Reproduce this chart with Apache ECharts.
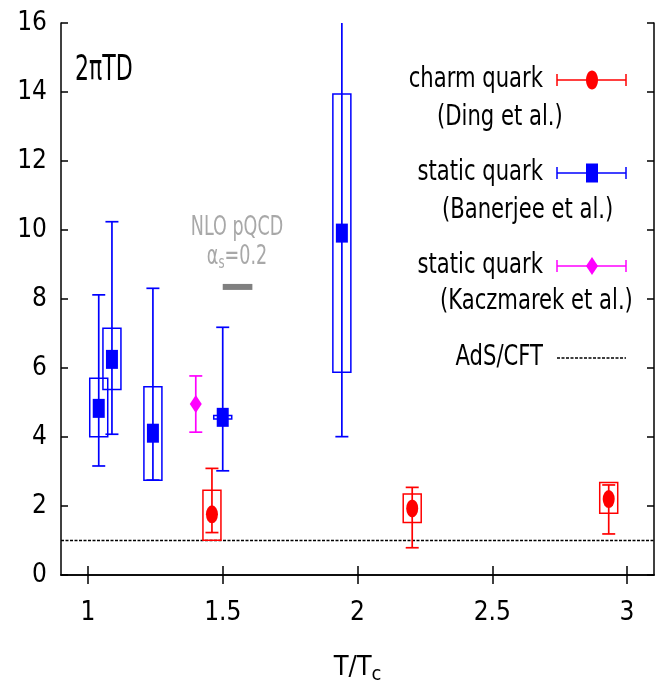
<!DOCTYPE html>
<html>
<head>
<meta charset="utf-8">
<script src="https://cdn.jsdelivr.net/npm/echarts@6/dist/echarts.min.js"></script>
<style>
html,body{margin:0;padding:0;background:#fff;}
#chart{width:664px;height:682px;}
</style>
</head>
<body>
<div id="chart"></div>
<script>
// ---- data ----
var xTicks = [1, 1.5, 2, 2.5, 3];
var xTickLabels = ['1', '1.5', '2', '2.5', '3'];
var yTicks = [0, 2, 4, 6, 8, 10, 12, 14, 16];

// charm quark (Ding et al.)
var charmX = [1.46, 2.203, 2.932];
var charmY = [1.76, 1.93, 2.20];
var charmErrLo = [1.23, 0.79, 1.19];
var charmErrHi = [3.09, 2.54, 2.61];
var charmBoxLo = [1.01, 1.52, 1.79];
var charmBoxHi = [2.46, 2.35, 2.68];

// static quark (Banerjee et al.)
var staticX = [1.04, 1.089, 1.241, 1.50, 1.942];
var staticY = [4.83, 6.25, 4.11, 4.57, 9.91];
var staticErrLo = [3.16, 4.08, 2.75, 3.02, 4.01];
var staticErrHi = [8.12, 10.24, 8.31, 7.18, 17.0];
var staticBoxLo = [4.01, 5.38, 2.75, 4.52, 5.88];
var staticBoxHi = [5.70, 7.15, 5.46, 4.62, 13.94];

// static quark (Kaczmarek et al.)
var kaczX = [1.40];
var kaczY = [4.96];
var kaczErrLo = [4.14];
var kaczErrHi = [5.77];

// AdS/CFT
var adsX = [0.9, 3.1];
var adsY = [1.0, 1.0];

// NLO pQCD, alpha_s = 0.2
var nloX = [1.50, 1.61];
var nloY = [8.35, 8.35];

// ---- helpers ----
function zip2(a, b) { return a.map(function (v, i) { return [v, b[i]]; }); }
function zip3(a, b, c) { return a.map(function (v, i) { return [v, b[i], c[i]]; }); }

var FONT = "'DejaVu Sans Condensed','Liberation Sans Narrow','Liberation Sans',sans-serif";
var RED = '#ff0000', BLUE = '#0000ff', MAG = '#ff00ff';
var ELLIPSE = 'path://M0,10 A6,10 0 1,1 12,10 A6,10 0 1,1 0,10 Z';

function errRender(color) {
  return function (params, api) {
    var x = api.value(0);
    var lo = api.coord([x, api.value(1)]);
    var hi = api.coord([x, api.value(2)]);
    var cw = 6.5;
    var st = { stroke: color, lineWidth: 1.7 };
    return {
      type: 'group',
      children: [
        { type: 'line', shape: { x1: lo[0], y1: lo[1], x2: hi[0], y2: hi[1] }, style: st },
        { type: 'line', shape: { x1: lo[0] - cw, y1: lo[1], x2: lo[0] + cw, y2: lo[1] }, style: st },
        { type: 'line', shape: { x1: hi[0] - cw, y1: hi[1], x2: hi[0] + cw, y2: hi[1] }, style: st }
      ]
    };
  };
}
function boxRender(color) {
  return function (params, api) {
    var x = api.value(0);
    var lo = api.coord([x, api.value(1)]);
    var hi = api.coord([x, api.value(2)]);
    var hw = 9;
    return {
      type: 'rect',
      shape: { x: lo[0] - hw, y: hi[1], width: 2 * hw, height: Math.max(lo[1] - hi[1], 2) },
      style: { fill: 'none', stroke: color, lineWidth: 1.5 }
    };
  };
}
function errSeries(name, color, x, lo, hi) {
  return { type: 'custom', name: name, renderItem: errRender(color), data: zip3(x, lo, hi),
    encode: { x: 0, y: [1, 2] }, clip: true, z: 3, silent: true };
}
function boxSeries(name, color, x, lo, hi) {
  return { type: 'custom', name: name, renderItem: boxRender(color), data: zip3(x, lo, hi),
    encode: { x: 0, y: [1, 2] }, clip: true, z: 2, silent: true };
}
function txt(str, x, y, size, sy, align, color, rich) {
  var st = { text: str, x: 0, y: 0, font: size + 'px ' + FONT, fill: color || '#000',
    align: align || 'left', verticalAlign: 'middle' };
  if (rich) st.rich = rich;
  return { type: 'text', x: x, y: y, scaleY: sy, style: st };
}

var chart = echarts.init(document.getElementById('chart'), null, { renderer: 'canvas' });

var axisLineStyle = { color: '#000', width: 1.5 };
var LEG = 23.5, LEGS = 1.22;
var option = {
  animation: false,
  backgroundColor: '#fff',
  grid: { left: 61, top: 23, right: 10, bottom: 107, containLabel: false, outerBoundsMode: 'none' },
  xAxis: [
    {
      type: 'value', min: 0.9, max: 3.1, position: 'bottom',
      name: 'T/T{sub|c}', nameLocation: 'middle', nameGap: 76,
      nameTextStyle: { fontFamily: FONT, fontSize: 27, color: '#000',
        rich: { sub: { fontFamily: FONT, fontSize: 20, verticalAlign: 'bottom', padding: [14, 0, 0, 0] } } },
      axisLine: { show: true, lineStyle: axisLineStyle },
      axisTick: { show: true, inside: true, length: 9, lineStyle: axisLineStyle, customValues: xTicks },
      axisLabel: { show: true, margin: 25, fontFamily: FONT, fontSize: 26, color: '#000', customValues: xTicks,
        formatter: function (v) { var i = xTicks.indexOf(v); return i >= 0 ? xTickLabels[i] : ''; } },
      splitLine: { show: false }
    },
    {
      type: 'value', min: 0.9, max: 3.1, position: 'top',
      axisLine: { show: true, lineStyle: axisLineStyle },
      axisTick: { show: true, inside: true, length: 9, lineStyle: axisLineStyle, customValues: xTicks },
      axisLabel: { show: false },
      splitLine: { show: false }
    }
  ],
  yAxis: [
    {
      type: 'value', min: 0, max: 16, interval: 2, position: 'left',
      axisLine: { show: true, lineStyle: axisLineStyle },
      axisTick: { show: true, inside: true, length: 7, lineStyle: axisLineStyle },
      axisLabel: { show: true, margin: 14, fontFamily: FONT, fontSize: 26, color: '#000' },
      splitLine: { show: false }
    },
    {
      type: 'value', min: 0, max: 16, interval: 2, position: 'right',
      axisLine: { show: true, lineStyle: axisLineStyle },
      axisTick: { show: true, inside: true, length: 7, lineStyle: axisLineStyle },
      axisLabel: { show: false },
      splitLine: { show: false }
    }
  ],
  series: [
    { type: 'line', name: 'AdS/CFT', data: zip2(adsX, adsY), showSymbol: false, symbol: 'none',
      lineStyle: { color: '#000', width: 1.5, type: [3, 1.5] }, z: 1, silent: true },
    { type: 'line', name: 'NLO pQCD', data: zip2(nloX, nloY), showSymbol: false, symbol: 'none',
      lineStyle: { color: '#808080', width: 6 }, z: 1, silent: true },

    boxSeries('static box', BLUE, staticX, staticBoxLo, staticBoxHi),
    errSeries('static err', BLUE, staticX, staticErrLo, staticErrHi),
    { type: 'scatter', name: 'static quark (Banerjee et al.)', data: zip2(staticX, staticY),
      symbol: 'rect', symbolSize: [12, 19], itemStyle: { color: BLUE, opacity: 1 }, z: 4, silent: true },

    errSeries('kacz err', MAG, kaczX, kaczErrLo, kaczErrHi),
    { type: 'scatter', name: 'static quark (Kaczmarek et al.)', data: zip2(kaczX, kaczY),
      symbol: 'diamond', symbolSize: [12, 18], itemStyle: { color: MAG, opacity: 1 }, z: 4, silent: true },

    boxSeries('charm box', RED, charmX, charmBoxLo, charmBoxHi),
    errSeries('charm err', RED, charmX, charmErrLo, charmErrHi),
    { type: 'scatter', name: 'charm quark (Ding et al.)', data: zip2(charmX, charmY),
      symbol: ELLIPSE, symbolSize: [12, 18], itemStyle: { color: RED, opacity: 1 }, z: 4, silent: true }
  ],
  graphic: [
    txt('2πTD', 75, 71, 24.5, 1.45, 'left'),
    txt('NLO pQCD', 237, 228, 19.5, 1.36, 'center', '#a8a8a8'),
    txt('α{s|s}=0.2', 237, 257, 19.5, 1.36, 'center', '#a8a8a8',
      { s: { font: '13px ' + FONT, fill: '#a8a8a8', padding: [10, 0, 0, 0] } }),

    // legend texts
    txt('charm quark', 543, 80, LEG, LEGS, 'right'),
    txt('(Ding et al.)', 437, 118, LEG, LEGS, 'left'),
    txt('static quark', 543, 173, LEG, LEGS, 'right'),
    txt('(Banerjee et al.)', 442, 211, LEG, LEGS, 'left'),
    txt('static quark', 543, 266, LEG, LEGS, 'right'),
    txt('(Kaczmarek et al.)', 440, 302, LEG, LEGS, 'left'),
    txt('AdS/CFT', 543, 358, LEG, LEGS, 'right'),

    // legend keys
    { type: 'group', x: 557, y: 80, children: [
      { type: 'line', shape: { x1: 0, y1: 0, x2: 69, y2: 0 }, style: { stroke: RED, lineWidth: 1.5 } },
      { type: 'line', shape: { x1: 0, y1: -6, x2: 0, y2: 6 }, style: { stroke: RED, lineWidth: 1.5 } },
      { type: 'line', shape: { x1: 69, y1: -6, x2: 69, y2: 6 }, style: { stroke: RED, lineWidth: 1.5 } },
      { type: 'ellipse', shape: { cx: 35, cy: 0, rx: 6, ry: 9.5 }, style: { fill: RED } }
    ] },
    { type: 'group', x: 557, y: 173, children: [
      { type: 'line', shape: { x1: 0, y1: 0, x2: 69, y2: 0 }, style: { stroke: BLUE, lineWidth: 1.5 } },
      { type: 'line', shape: { x1: 0, y1: -6, x2: 0, y2: 6 }, style: { stroke: BLUE, lineWidth: 1.5 } },
      { type: 'line', shape: { x1: 69, y1: -6, x2: 69, y2: 6 }, style: { stroke: BLUE, lineWidth: 1.5 } },
      { type: 'rect', shape: { x: 29, y: -9.5, width: 12, height: 19 }, style: { fill: BLUE } }
    ] },
    { type: 'group', x: 557, y: 266, children: [
      { type: 'line', shape: { x1: 0, y1: 0, x2: 69, y2: 0 }, style: { stroke: MAG, lineWidth: 1.5 } },
      { type: 'line', shape: { x1: 0, y1: -6, x2: 0, y2: 6 }, style: { stroke: MAG, lineWidth: 1.5 } },
      { type: 'line', shape: { x1: 69, y1: -6, x2: 69, y2: 6 }, style: { stroke: MAG, lineWidth: 1.5 } },
      { type: 'polygon', shape: { points: [[35, -9], [41, 0], [35, 9], [29, 0]] }, style: { fill: MAG } }
    ] },
    { type: 'line', x: 557, y: 358, shape: { x1: 0, y1: 0, x2: 69, y2: 0 }, style: { stroke: '#000', lineWidth: 1.5, lineDash: [3, 1.5] } }
  ]
};
chart.setOption(option);
</script>
</body>
</html>
